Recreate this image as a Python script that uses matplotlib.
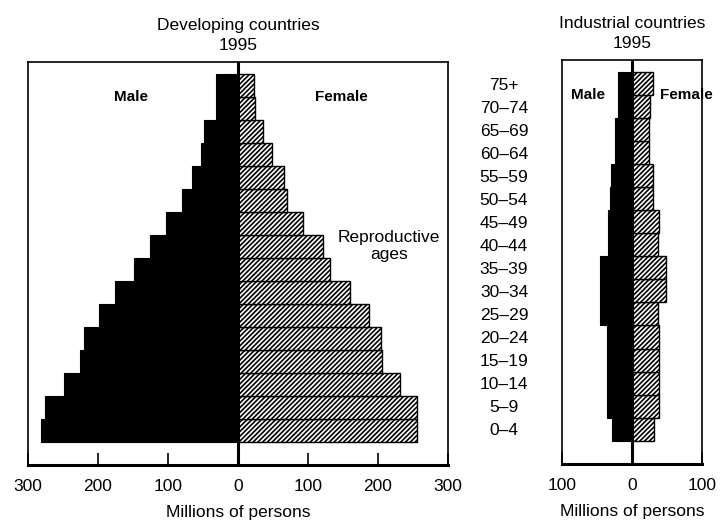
import numpy as np
import matplotlib
matplotlib.use('Agg')
import matplotlib.pyplot as plt
import matplotlib.transforms as mtransforms

plt.rcParams['font.family'] = ['Liberation Sans', 'DejaVu Sans']
plt.rcParams['hatch.linewidth'] = 1.2

# Age groups, youngest first
ages = ['0–4', '5–9', '10–14', '15–19', '20–24', '25–29', '30–34', '35–39',
        '40–44', '45–49', '50–54', '55–59', '60–64', '65–69', '70–74', '75+']

# Millions of persons
dev_male = [281, 276, 248, 225, 220, 198, 175, 149, 126, 103, 80, 65, 53, 48, 31, 31]
dev_female = [256, 255, 232, 205, 204, 187, 160, 132, 121, 93, 70, 65, 48, 35, 24, 23]
ind_male = [29, 36, 36, 36, 36, 46, 46, 46, 35, 35, 32, 30, 25, 25, 20, 20]
ind_female = [32, 39, 39, 38, 39, 37, 49, 49, 37, 39, 30, 30, 24, 24, 25, 30]

dev_ticks = [-300, -200, -100, 0, 100, 200, 300]
ind_ticks = [-100, 0, 100]

W, H = 721, 520
fig = plt.figure(figsize=(W / 100, H / 100), dpi=100)


def px_axes(x0, x1, ytop, ybot):
    return fig.add_axes([x0 / W, (H - ybot) / H, (x1 - x0) / W, (ybot - ytop) / H])


def pyramid(ax, male, female, lim, ticks, title, male_x, female_x):
    y = np.arange(len(ages))
    ax.barh(y, -np.array(male), height=1.0, color='black', edgecolor='black', linewidth=0.8)
    ax.barh(y, female, height=1.0, color='white', edgecolor='black', linewidth=1.0,
            hatch='///////')
    ax.axvline(0, color='black', linewidth=2.2, zorder=5)
    ax.set_xlim(-lim, lim)
    ax.set_ylim(-1.5, 16.0)
    ax.set_yticks([])
    ax.set_xticks(ticks)
    ax.set_xticklabels([str(abs(t)) for t in ticks], fontsize=12.5)
    ax.tick_params(axis='x', direction='in', length=9, width=1.2, pad=10)
    for side in ['top', 'left', 'right']:
        ax.spines[side].set_linewidth(1.2)
    ax.spines['bottom'].set_linewidth(2.2)
    ax.set_title(title, fontsize=12.5, pad=9, linespacing=1.35)
    ax.set_xlabel('Millions of persons', fontsize=12.5, labelpad=8)
    ax.text(male_x, 14.5, 'Male', fontsize=11, fontweight='bold', ha='center', va='center')
    ax.text(female_x, 14.5, 'Female', fontsize=11, fontweight='bold', ha='center',
            va='center', clip_on=False)


ax1 = px_axes(28, 448, 62, 465)
pyramid(ax1, dev_male, dev_female, 300, dev_ticks, 'Developing countries\n1995', -153, 147)
ax1.text(216, 8, 'Reproductive\nages', fontsize=12.5, ha='center', va='center',
         linespacing=1.2)

ax2 = px_axes(562, 702, 60, 464)
pyramid(ax2, ind_male, ind_female, 100, ind_ticks, 'Industrial countries\n1995', -63, 77)

# Age group labels between the two pyramids
trans = mtransforms.blended_transform_factory(fig.transFigure, ax1.transData)
for i, a in enumerate(ages):
    fig.text(504 / W, i, a, transform=trans, fontsize=12.5, ha='center', va='center')

fig.savefig('out.png', dpi=100)
